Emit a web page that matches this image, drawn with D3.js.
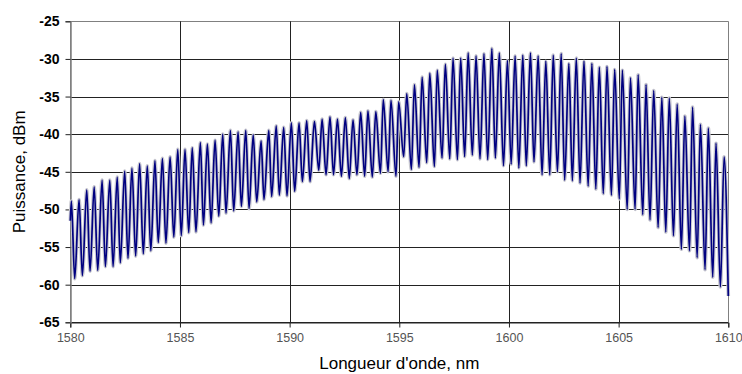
<!DOCTYPE html>
<html>
<head>
<meta charset="utf-8">
<script src="https://cdn.jsdelivr.net/npm/d3@7"></script>
<style>
  html, body { margin: 0; padding: 0; background: #fff; }
  svg { display: block; }
</style>
</head>
<body>
<svg id="chart" width="742" height="374"></svg>
<script>
// ---- Data ----
const xTicks = [1580, 1585, 1590, 1595, 1600, 1605, 1610];
const yTicks = [-25, -30, -35, -40, -45, -50, -55, -60, -65];
const xTitle = "Longueur d'onde, nm";
const yTitle = "Puissance, dBm";

const startNm = 1580.00;
const startDb = -51.5;

// local maxima of the spectrum (wavelength nm, power dBm)
const peakNm = [1580.05,1580.40,1580.75,1581.09,1581.45,1581.80,1582.14,1582.48,1582.81,1583.16,
  1583.51,1583.86,1584.20,1584.55,1584.90,1585.23,1585.56,1585.93,1586.25,1586.60,
  1586.95,1587.30,1587.65,1588.00,1588.34,1588.70,1589.05,1589.39,1589.73,1590.08,
  1590.43,1590.78,1591.13,1591.48,1591.84,1592.18,1592.54,1592.89,1593.24,1593.57,
  1593.93,1594.27,1594.62,1594.97,1595.34,1595.69,1596.04,1596.39,1596.73,1597.10,
  1597.45,1597.80,1598.14,1598.50,1598.86,1599.22,1599.56,1599.93,1600.28,1600.63,
  1600.98,1601.33,1601.68,1602.02,1602.38,1602.73,1603.07,1603.42,1603.78,1604.12,
  1604.47,1604.82,1605.17,1605.54,1605.89,1606.25,1606.60,1606.97,1607.31,1607.67,
  1608.02,1608.37,1608.73,1609.09,1609.44,1609.81];
const peakDb = [-48.9,-48.7,-47.4,-47.0,-46.1,-46.1,-45.7,-44.9,-44.5,-43.9,
  -44.2,-43.5,-43.2,-43.0,-42.0,-42.0,-41.8,-41.1,-41.3,-40.8,
  -40.0,-39.5,-39.7,-39.5,-40.1,-40.9,-39.5,-38.9,-39.1,-38.5,
  -38.5,-38.2,-38.3,-38.0,-37.7,-38.0,-37.8,-38.1,-37.1,-36.9,
  -37.0,-35.4,-35.5,-35.7,-34.6,-33.4,-32.4,-31.9,-31.5,-30.7,
  -29.9,-29.9,-29.2,-29.6,-29.3,-28.6,-29.2,-30.2,-29.6,-29.5,
  -29.2,-29.6,-30.3,-29.5,-29.3,-30.6,-29.9,-30.3,-30.6,-31.1,
  -31.0,-31.4,-31.5,-32.5,-32.1,-33.4,-34.2,-35.1,-35.2,-36.0,
  -37.6,-36.4,-38.7,-39.2,-41.2,-43.0];

// local minima of the spectrum (wavelength nm, power dBm)
const troughNm = [1580.20,1580.55,1580.90,1581.25,1581.60,1581.95,1582.28,1582.63,1582.98,1583.33,
  1583.67,1584.01,1584.36,1584.72,1585.06,1585.40,1585.73,1586.07,1586.42,1586.77,
  1587.10,1587.45,1587.80,1588.15,1588.50,1588.83,1589.18,1589.53,1589.88,1590.23,
  1590.58,1590.93,1591.33,1591.66,1592.00,1592.36,1592.72,1593.07,1593.42,1593.77,
  1594.14,1594.49,1594.85,1595.20,1595.55,1595.90,1596.25,1596.60,1596.95,1597.30,
  1597.65,1597.98,1598.33,1598.68,1599.03,1599.38,1599.75,1600.10,1600.45,1600.79,
  1601.14,1601.51,1601.86,1602.21,1602.54,1602.89,1603.24,1603.61,1603.96,1604.30,
  1604.67,1605.03,1605.39,1605.75,1606.10,1606.43,1606.80,1607.15,1607.50,1607.86,
  1608.23,1608.58,1608.94,1609.29,1609.64,1610.00];
const troughDb = [-59.2,-58.8,-58.2,-58.1,-57.6,-57.6,-57.1,-56.5,-56.2,-55.9,
  -55.5,-54.4,-54.5,-53.7,-53.5,-53.1,-53.0,-52.1,-51.8,-50.9,
  -50.5,-50.2,-49.6,-49.9,-49.0,-48.7,-48.3,-48.1,-48.2,-47.6,
  -46.3,-46.3,-44.8,-45.4,-45.4,-45.6,-45.9,-45.4,-45.6,-45.7,
  -45.2,-45.0,-45.6,-43.0,-44.7,-44.4,-43.8,-44.3,-43.2,-43.3,
  -43.4,-43.0,-42.8,-43.3,-43.4,-43.2,-44.2,-44.0,-44.5,-44.2,
  -43.7,-45.4,-45.4,-45.0,-46.1,-46.2,-46.5,-46.9,-47.3,-47.9,
  -48.1,-48.6,-50.0,-50.0,-50.7,-51.4,-52.4,-53.0,-53.5,-55.3,
  -55.5,-56.4,-58.0,-59.0,-60.3,-61.5];

// ---- Build series ----
const points = [{x: startNm, y: startDb}];
peakNm.forEach((v, i) => points.push({x: v, y: peakDb[i]}));
troughNm.forEach((v, i) => points.push({x: v, y: troughDb[i]}));
points.sort((a, b) => a.x - b.x);

// ---- Layout ----
const svg = d3.select("#chart");
const L = 70.3, R = 728.3, T = 21.3, B = 322.3;

const x = d3.scaleLinear().domain([1580, 1610]).range([L, R]);
const y = d3.scaleLinear().domain([-65, -25]).range([B, T]);

// grid
const g = svg.append("g");
g.selectAll("line.h").data(yTicks).join("line")
  .attr("x1", L).attr("x2", R)
  .attr("y1", d => Math.round(y(d)) + 0.5).attr("y2", d => Math.round(y(d)) + 0.5)
  .attr("stroke", d => (d === -25 ? "#808080" : "#222")).attr("stroke-width", 1);
g.selectAll("line.v").data(xTicks).join("line")
  .attr("y1", T).attr("y2", B)
  .attr("x1", d => Math.round(x(d)) + 0.5).attr("x2", d => Math.round(x(d)) + 0.5)
  .attr("stroke", d => (d === 1610 || d === 1580 ? "#808080" : "#222")).attr("stroke-width", 1);

// axes
const fmt = d => String(d);
const xAxis = d3.axisBottom(x).tickValues(xTicks).tickSize(5).tickPadding(6).tickFormat(fmt);
const yAxis = d3.axisLeft(y).tickValues(yTicks).tickSize(5).tickPadding(6).tickFormat(fmt);

const gx = svg.append("g").attr("transform", `translate(0,${Math.round(B) + 0.5})`).call(xAxis);
gx.select(".domain").attr("stroke", "#222");
gx.selectAll(".tick line").attr("stroke", "#222");
gx.selectAll("text").attr("font-family", "Liberation Sans, Arial, sans-serif")
  .attr("font-size", 12.5).attr("fill", "#555");

const gy = svg.append("g").attr("transform", `translate(${Math.round(L) + 0.5},0)`).call(yAxis);
gy.select(".domain").attr("stroke", "#808080").attr("stroke-width", 1.5);
gy.selectAll(".tick line").attr("stroke", "#222");
gy.selectAll("text").attr("font-family", "Liberation Sans, Arial, sans-serif")
  .attr("font-size", 14).attr("font-weight", "bold").attr("fill", "#000")
  .attr("x", -11);

// line
const line = d3.line().x(d => x(d.x)).y(d => y(d.y)).curve(d3.curveMonotoneX);
svg.append("path").datum(points).attr("d", line)
  .attr("fill", "none").attr("stroke", "#c8c8d0").attr("stroke-width", 3.6)
  .attr("stroke-linejoin", "round");
svg.append("path").datum(points).attr("d", line)
  .attr("fill", "none").attr("stroke", "#000080").attr("stroke-width", 1.7)
  .attr("stroke-linejoin", "round");

// titles
svg.append("text").attr("x", (L + R) / 2).attr("y", 369)
  .attr("text-anchor", "middle")
  .attr("font-family", "Liberation Sans, Arial, sans-serif").attr("font-size", 17)
  .attr("fill", "#000").text(xTitle);
svg.append("text")
  .attr("transform", `translate(25,${(T + B) / 2}) rotate(-90)`)
  .attr("text-anchor", "middle")
  .attr("font-family", "Liberation Sans, Arial, sans-serif").attr("font-size", 17)
  .attr("fill", "#000").text(yTitle);
</script>
</body>
</html>
